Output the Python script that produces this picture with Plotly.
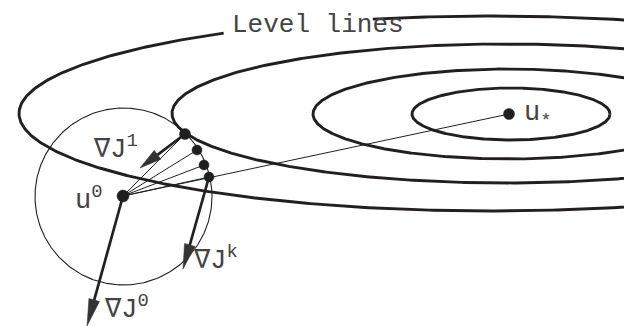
import numpy as np
import plotly.graph_objects as go

# ---- diagram data (pixel-like coordinates, y grows downward) ----
# level lines (ellipses), innermost to outermost
level_cx = [503, 500, 497, 483]
level_cy = [106, 106, 105.5, 105.5]
level_rx = [99, 195, 333, 472]
level_ry = [26, 45, 69.5, 97.5]
# angular gap (degrees) in the outermost level line, left for its label
outer_gap_deg = [104.5, 124.3]

# admissible ball around the starting point
ball_cx = [115.5]
ball_cy = [188.5]
ball_r = [88.5]

# points
u0_xy = [115, 188]
ustar_xy = [501, 106]
iter_x = [177, 189, 196, 201]
iter_y = [126, 142, 157, 169]

# gradient arrows: J^0, J^1, J^k
grad_x0 = [115, 177, 201]
grad_y0 = [188, 126, 169]
grad_x1 = [79, 132, 175]
grad_y1 = [318, 160, 261]

# labels
label_text = ["Level lines", "u<sub>*</sub>", "u<sup>0</sup>",
              "∇J<sup>1</sup>", "∇J<sup>k</sup>", "∇J<sup>0</sup>"]
label_x = [223, 515, 66, 84, 184, 95]
label_y = [17, 107, 190, 139, 250, 299]
label_size = [26, 27, 27, 27, 27, 27]

INK = "#231f20"
TXT = "#444444"
DOT = "#1f1f1f"
FONT = "Liberation Mono, Courier New, DejaVu Sans Mono, monospace"

fig = go.Figure()

# level lines
for i in range(len(level_cx)):
    th = np.radians(np.linspace(0, 360, 721))
    if i == len(level_cx) - 1:
        th_a = th[np.degrees(th) >= outer_gap_deg[1]]
        th_b = th[np.degrees(th) <= outer_gap_deg[0]]
        th = np.concatenate([th_a, th_b + 2 * np.pi])
    x = level_cx[i] + level_rx[i] * np.cos(th)
    y = level_cy[i] - level_ry[i] * np.sin(th)
    fig.add_trace(go.Scatter(x=x, y=y, mode="lines",
                             line=dict(color=INK, width=2.9),
                             hoverinfo="skip", showlegend=False))

# ball
th = np.radians(np.linspace(0, 360, 361))
fig.add_trace(go.Scatter(x=ball_cx[0] + ball_r[0] * np.cos(th),
                         y=ball_cy[0] + ball_r[0] * np.sin(th),
                         mode="lines", line=dict(color=INK, width=1.1),
                         hoverinfo="skip", showlegend=False))

# thin lines from u0 to iterates and to u*
fan_x, fan_y = [], []
for xi, yi in zip(iter_x, iter_y):
    fan_x += [u0_xy[0], xi, None]
    fan_y += [u0_xy[1], yi, None]
fan_x += [u0_xy[0], ustar_xy[0], None]
fan_y += [u0_xy[1], ustar_xy[1], None]
fig.add_trace(go.Scatter(x=fan_x, y=fan_y, mode="lines",
                         line=dict(color=INK, width=1.0),
                         hoverinfo="skip", showlegend=False))

# gradient arrows
head_len = [27, 22, 25]
head_half = [5.5, 5.5, 5.5]
for i in range(len(grad_x0)):
    p0 = np.array([grad_x0[i], grad_y0[i]], float)
    p1 = np.array([grad_x1[i], grad_y1[i]], float)
    d = p1 - p0
    u = d / np.linalg.norm(d)
    n = np.array([-u[1], u[0]])
    base = p1 - u * head_len[i]
    fig.add_trace(go.Scatter(x=[p0[0], base[0] + u[0] * 3], y=[p0[1], base[1] + u[1] * 3],
                             mode="lines", line=dict(color=INK, width=2.7),
                             hoverinfo="skip", showlegend=False))
    tri = np.array([p1, base + n * head_half[i], base - n * head_half[i], p1])
    fig.add_trace(go.Scatter(x=tri[:, 0], y=tri[:, 1], mode="lines", fill="toself",
                             fillcolor="#333333", line=dict(color="#333333", width=0.5),
                             hoverinfo="skip", showlegend=False))

# points
fig.add_trace(go.Scatter(x=iter_x, y=iter_y, mode="markers",
                         marker=dict(size=[11, 10, 10, 10], color=DOT, opacity=1,
                                     line=dict(width=0.5, color=DOT)),
                         hoverinfo="skip", showlegend=False))
fig.add_trace(go.Scatter(x=[u0_xy[0], ustar_xy[0]], y=[u0_xy[1], ustar_xy[1]],
                         mode="markers",
                         marker=dict(size=[12, 11], color=DOT, opacity=1,
                                     line=dict(width=0.5, color=DOT)),
                         hoverinfo="skip", showlegend=False))

for t, x, y, s in zip(label_text, label_x, label_y, label_size):
    fig.add_annotation(x=x, y=y, text=t, showarrow=False, xanchor="left",
                       yanchor="middle", font=dict(family=FONT, size=s, color=TXT),
                       bgcolor="rgba(0,0,0,0)", borderpad=0)

fig.update_layout(width=632, height=326, margin=dict(l=0, r=0, t=0, b=0),
                  paper_bgcolor="white", plot_bgcolor="white",
                  xaxis=dict(range=[0, 632], visible=False, fixedrange=True),
                  yaxis=dict(range=[326, 0], visible=False, fixedrange=True),
                  showlegend=False)

fig.write_html("out.html")
